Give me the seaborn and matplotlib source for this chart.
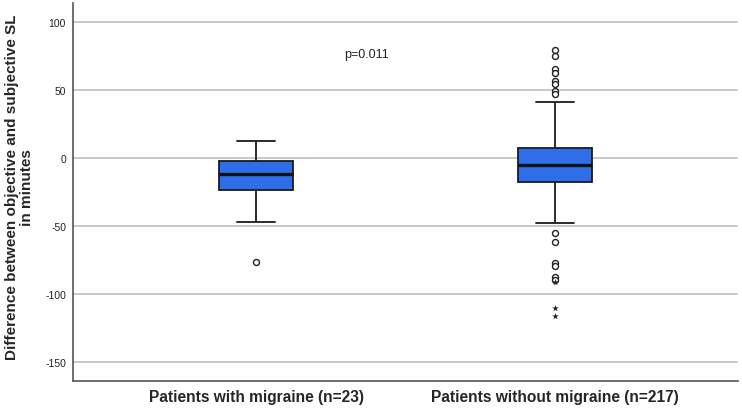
import numpy as np
import pandas as pd
import matplotlib
matplotlib.use("Agg")
import matplotlib.pyplot as plt
import seaborn as sns

# ---- data ----
categories = ["Patients with migraine (n=23)", "Patients without migraine (n=217)"]
whisker_low = [-47.5, -48.0]
q1 = [-23.5, -17.4]
median = [-11.5, -5.1]
q3 = [-2.2, 7.1]
whisker_high = [12.5, 41.5]

# outliers (circles) and extremes (stars)
outliers_with = [-76.5]
outliers_without = [79.4, 75.0, 65.7, 62.8, 56.6, 54.2, 49.3, 46.8,
                    -55.6, -62.2, -77.0, -79.6, -87.4, -89.6]
extremes_without = [-91.6, -110.5, -116.6]

y_ticks = [-150, -100, -50, 0, 50, 100]
p_text = "p=0.011"
y_label = "Difference between objective and subjective SL\nin minutes"

# ---- build tables ----
rows = []
for i, c in enumerate(categories):
    for v in (whisker_low[i], q1[i], median[i], q3[i], whisker_high[i]):
        rows.append((c, v))
box_df = pd.DataFrame(rows, columns=["group", "value"])

out_df = pd.DataFrame(
    [(categories[0], v) for v in outliers_with] +
    [(categories[1], v) for v in outliers_without],
    columns=["group", "value"])
ext_df = pd.DataFrame([(categories[1], v) for v in extremes_without],
                      columns=["group", "value"])

sns.set_theme(style="white")
plt.rcParams["font.family"] = ["Liberation Sans", "DejaVu Sans"]
plt.rcParams["axes.unicode_minus"] = False

fig = plt.figure(figsize=(7.42, 4.10), dpi=100)
ax = fig.add_axes([0.0984, 0.069, 0.8962, 0.921])

box_color = "#2f6eea"
sns.boxplot(data=box_df, x="group", y="value", order=categories,
            color=box_color, saturation=1, width=0.25, showfliers=False,
            linecolor="#1a1a1a", linewidth=1.3,
            medianprops=dict(linewidth=2.4, color="#111111"),
            ax=ax, zorder=3)

sns.stripplot(data=out_df, x="group", y="value", order=categories,
              jitter=False, marker="o", size=4.3, facecolor="white",
              edgecolor="#222222", linewidth=1.0, color="white",
              ax=ax, zorder=4)
sns.stripplot(data=ext_df, x="group", y="value", order=categories,
              jitter=False, marker="*", size=5, color="#222222",
              linewidth=0, ax=ax, zorder=4)

ax.set_xlim(-0.612, 1.612)
ax.set_ylim(-164, 114)
ax.set_yticks(y_ticks)
ax.yaxis.grid(True, color="#b9c1c1", linewidth=1.2, zorder=0)
ax.set_axisbelow(True)
ax.tick_params(axis="y", length=0, labelsize=7.5, pad=5, colors="#222222")
ax.tick_params(axis="x", length=0, labelsize=11.2, pad=6)
for lbl in ax.get_xticklabels():
    lbl.set_fontweight("bold")
ax.set_xlabel("")
ax.set_ylabel(y_label, fontsize=11, fontweight="bold", linespacing=1.1)
ax.yaxis.set_label_coords(-0.058, 0.515)

for s in ("top", "right"):
    ax.spines[s].set_visible(False)
for s in ("left", "bottom"):
    ax.spines[s].set_color("#555555")
    ax.spines[s].set_linewidth(1.2)

ax.text(0.37, 76.2, p_text, fontsize=9, ha="center", va="center",
        color="#222222")

fig.savefig("out.png", dpi=100)
